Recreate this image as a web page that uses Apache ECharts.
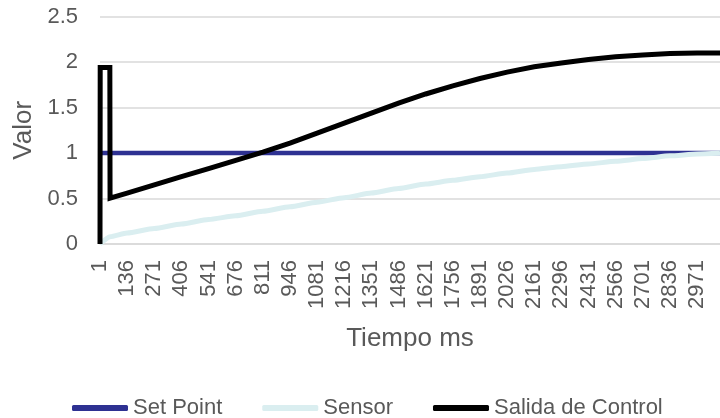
<!DOCTYPE html>
<html>
<head>
<meta charset="utf-8">
<style>
  html, body { margin: 0; padding: 0; background: #ffffff; }
  #chart { width: 720px; height: 418px; }
</style>
<script src="https://cdn.jsdelivr.net/npm/echarts@6/dist/echarts.min.js"></script>
</head>
<body>
<div id="chart"></div>
<script>
// Sample positions (ms) shown as tick labels on the time axis
const timeTicks = [1, 136, 271, 406, 541, 676, 811, 946, 1081, 1216, 1351, 1486,
  1621, 1756, 1891, 2026, 2161, 2296, 2431, 2566, 2701, 2836, 2971];

// Set point: constant reference
const setPointTime = [1, 3085];
const setPointValue = [1, 1];

// Sensor reading
const sensorTime = [1, 51, 136, 271, 406, 541, 676, 811, 946, 1081, 1216, 1351, 1486,
  1621, 1756, 1891, 2026, 2161, 2296, 2431, 2566, 2701, 2836, 2971, 3085];
const sensorValue = [0, 0.08, 0.12, 0.17, 0.22, 0.27, 0.31, 0.36, 0.41, 0.46, 0.51, 0.56, 0.61,
  0.66, 0.70, 0.74, 0.78, 0.82, 0.85, 0.88, 0.91, 0.94, 0.97, 0.99, 1.0];

// Controller output
const controlTime = [1, 2, 50, 51, 136, 271, 406, 541, 676, 811, 946, 1081, 1216, 1351, 1486,
  1621, 1756, 1891, 2026, 2161, 2296, 2431, 2566, 2701, 2836, 2971, 3085];
const controlValue = [0, 1.94, 1.94, 0.505, 0.56, 0.65, 0.74, 0.83, 0.92, 1.01, 1.11, 1.22, 1.33, 1.44, 1.55,
  1.65, 1.74, 1.82, 1.89, 1.95, 1.99, 2.03, 2.06, 2.08, 2.095, 2.10, 2.10];

const yTicks = [0, 0.5, 1, 1.5, 2, 2.5];

function pairs(xs, ys) {
  return xs.map(function (x, i) { return [x, ys[i]]; });
}

const FONT = '"Liberation Sans", Arial, sans-serif';
const TEXT = '#595959';
const GRID = '#D9D9D9';

const chart = echarts.init(document.getElementById('chart'), null, { renderer: 'canvas' });

chart.setOption({
  animation: false,
  backgroundColor: '#ffffff',
  textStyle: { fontFamily: FONT },
  grid: { left: 100, right: 0, top: 16.7, bottom: 174, containLabel: false },
  legend: {
    left: 67,
    top: 392,
    itemWidth: 56,
    itemHeight: 6,
    itemGap: 40,
    icon: 'roundRect',
    textStyle: { color: TEXT, fontSize: 22, fontFamily: FONT },
    data: ['Set Point', 'Sensor', 'Salida de Control']
  },
  xAxis: {
    type: 'value',
    min: 1,
    max: 3085,
    name: 'Tiempo ms',
    nameLocation: 'middle',
    nameGap: 82,
    nameTextStyle: { color: TEXT, fontSize: 26, fontFamily: FONT },
    axisLine: { show: true, lineStyle: { color: GRID, width: 1.5 } },
    axisTick: { show: false },
    splitLine: { show: false },
    axisLabel: {
      customValues: timeTicks,
      rotate: 90,
      margin: 16,
      color: TEXT,
      fontSize: 22,
      fontFamily: FONT,
      formatter: function (v) { return String(v); }
    }
  },
  yAxis: {
    type: 'value',
    min: yTicks[0],
    max: yTicks[yTicks.length - 1],
    interval: 0.5,
    name: 'Valor',
    nameLocation: 'middle',
    nameGap: 62,
    nameTextStyle: { color: TEXT, fontSize: 26, fontFamily: FONT },
    axisLine: { show: false },
    axisTick: { show: false },
    splitLine: { lineStyle: { color: GRID, width: 1.5 } },
    axisLabel: { color: TEXT, fontSize: 22, fontFamily: FONT, margin: 22 }
  },
  series: [
    {
      name: 'Set Point',
      type: 'line',
      data: pairs(setPointTime, setPointValue),
      showSymbol: false,
      symbol: 'none',
      color: '#2E3192',
      lineStyle: { color: '#2E3192', width: 4.5 },
      z: 2
    },
    {
      name: 'Sensor',
      type: 'line',
      data: pairs(sensorTime, sensorValue),
      showSymbol: false,
      symbol: 'none',
      smooth: 0.2,
      smoothMonotone: 'x',
      color: '#DAEEF0',
      lineStyle: { color: '#DAEEF0', width: 5 },
      z: 3
    },
    {
      name: 'Salida de Control',
      type: 'line',
      data: pairs(controlTime, controlValue),
      showSymbol: false,
      symbol: 'none',
      color: '#000000',
      lineStyle: { color: '#000000', width: 5, join: 'miter' },
      z: 4
    }
  ]
});
</script>
</body>
</html>
